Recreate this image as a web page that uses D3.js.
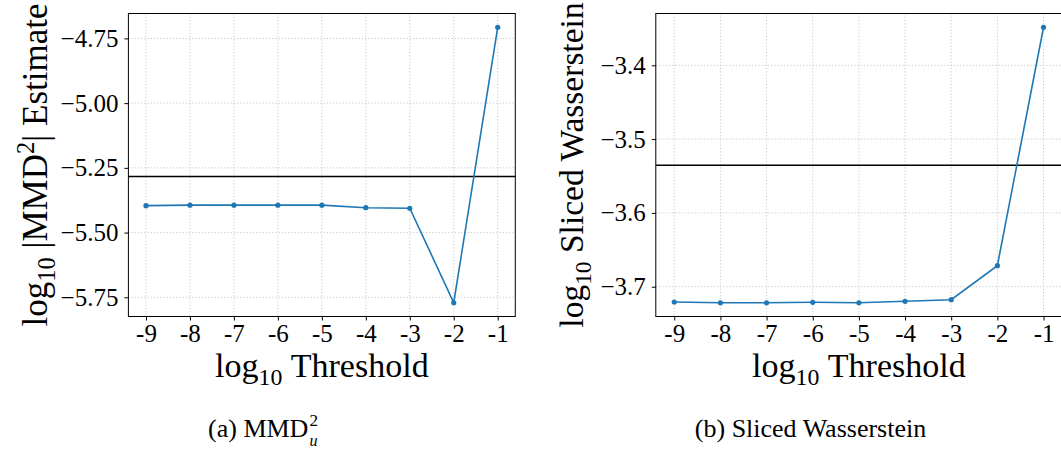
<!DOCTYPE html>
<html>
<head>
<meta charset="utf-8">
<script src="https://cdn.jsdelivr.net/npm/d3@7"></script>
<style>
  html, body { margin: 0; padding: 0; background: #fff; }
  svg { display: block; }
  text { font-family: "Liberation Serif", "DejaVu Serif", serif; fill: #000; }
</style>
</head>
<body>
<svg id="chart" width="1061" height="451"></svg>
<script>
// ---------- data ----------
const thresholds = [-9, -8, -7, -6, -5, -4, -3, -2, -1];
const xTickLabels = ["-9", "-8", "-7", "-6", "-5", "-4", "-3", "-2", "-1"];

const mmdValues = [-5.396, -5.394, -5.394, -5.394, -5.394, -5.404, -5.406, -5.771, -4.707];
const mmdReference = -5.283;
const mmdTicks = [-4.75, -5.00, -5.25, -5.50, -5.75];
const mmdTickLabels = ["\u22124.75", "\u22125.00", "\u22125.25", "\u22125.50", "\u22125.75"];

const swValues = [-3.7207, -3.7217, -3.7217, -3.7211, -3.7217, -3.7198, -3.7176, -3.6715, -3.3485];
const swReference = -3.5356;
const swTicks = [-3.4, -3.5, -3.6, -3.7];
const swTickLabels = ["\u22123.4", "\u22123.5", "\u22123.6", "\u22123.7"];

// ---------- drawing ----------
const svg = d3.select("#chart");
const BLUE = "#1f77b4";
const SERIF = "'Liberation Serif', 'DejaVu Serif', serif";
const TICK_FS = 25, XLABEL_FS = 34, CAPTION_FS = 26;

function padDomain(vals) {
  const lo = d3.min(vals), hi = d3.max(vals), m = (hi - lo) * 0.05;
  return [lo - m, hi + m];
}

function styleAxis(sel) {
  sel.select(".domain").remove();
  sel.attr("font-family", null).attr("font-size", null);
  sel.selectAll("text")
    .style("font-family", SERIF).style("font-size", TICK_FS + "px").attr("fill", "#000");
  sel.selectAll("line").attr("stroke", "#000");
}

function panel(opt) {
  const g = svg.append("g");
  const x = d3.scaleLinear().domain([-9.4, -0.6]).range([opt.left, opt.right]);
  const y = d3.scaleLinear().domain(padDomain(opt.values)).range([opt.bottom, opt.top]);

  // grid
  const grid = g.append("g").attr("stroke", "#bdbdbd").attr("stroke-width", 0.8)
    .attr("stroke-dasharray", "1.2,2");
  grid.selectAll(".vg").data(thresholds).join("line")
    .attr("x1", d => x(d)).attr("x2", d => x(d))
    .attr("y1", opt.top).attr("y2", opt.bottom);
  grid.selectAll(".hg").data(opt.ticks).join("line")
    .attr("x1", opt.left).attr("x2", opt.right)
    .attr("y1", d => y(d)).attr("y2", d => y(d));

  // axes
  const xAxis = d3.axisBottom(x).tickValues(thresholds)
    .tickFormat((d, i) => xTickLabels[i]).tickSize(4).tickPadding(4);
  g.append("g").attr("transform", `translate(0,${opt.bottom})`).call(xAxis).call(styleAxis);

  const yAxis = d3.axisLeft(y).tickValues(opt.ticks)
    .tickFormat((d, i) => opt.tickLabels[i]).tickSize(4).tickPadding(6);
  g.append("g").attr("transform", `translate(${opt.left},0)`).call(yAxis).call(styleAxis);

  // reference horizontal line
  g.append("line")
    .attr("x1", opt.left).attr("x2", opt.right)
    .attr("y1", y(opt.reference)).attr("y2", y(opt.reference))
    .attr("stroke", "#000").attr("stroke-width", 1.5);

  // series
  const pts = thresholds.map((t, i) => [t, opt.values[i]]);
  g.append("path").datum(pts)
    .attr("fill", "none").attr("stroke", BLUE).attr("stroke-width", 1.6)
    .attr("d", d3.line().x(d => x(d[0])).y(d => y(d[1])));
  g.selectAll(".pt").data(pts).join("circle")
    .attr("cx", d => x(d[0])).attr("cy", d => y(d[1])).attr("r", 2.6)
    .attr("fill", BLUE);

  // frame
  g.append("rect")
    .attr("x", opt.left).attr("y", opt.top)
    .attr("width", opt.right - opt.left).attr("height", opt.bottom - opt.top)
    .attr("fill", "none").attr("stroke", "#000").attr("stroke-width", 1);

  // x label
  const xl = g.append("text").attr("x", (opt.left + opt.right) / 2).attr("y", opt.xLabelY)
    .attr("text-anchor", "middle").style("font-size", XLABEL_FS + "px");
  xl.append("tspan").text("log");
  xl.append("tspan").text("10").style("font-size", XLABEL_FS * 0.7 + "px").attr("dy", 8);
  xl.append("tspan").text("\u00a0Threshold").attr("dy", -8);

  // y label (rotated)
  const fs = opt.yLabelFS;
  const yl = g.append("text")
    .attr("transform", `translate(${opt.yLabelX},${(opt.top + opt.bottom) / 2}) rotate(-90)`)
    .attr("text-anchor", "middle").style("font-size", fs + "px");
  opt.yLabelParts.forEach(p => {
    const t = yl.append("tspan").text(p.t);
    if (p.sub) t.style("font-size", fs * 0.7 + "px").attr("dy", 8);
    if (p.sup) t.style("font-size", fs * 0.7 + "px").attr("dy", -13);
    if (p.dy) t.attr("dy", p.dy);
  });
  return g;
}

panel({
  left: 128.4, right: 515.3, top: 13.5, bottom: 316.5,
  values: mmdValues, reference: mmdReference,
  ticks: mmdTicks, tickLabels: mmdTickLabels,
  xLabelY: 377, yLabelX: 47, yLabelFS: 35,
  yLabelParts: [
    { t: "log" }, { t: "10", sub: true },
    { t: "\u00a0|MMD", dy: -8 }, { t: "2", sup: true },
    { t: "|\u00a0Estimate", dy: 13 }
  ]
});

panel({
  left: 655.8, right: 1062, top: 13.5, bottom: 316.5,
  values: swValues, reference: swReference,
  ticks: swTicks, tickLabels: swTickLabels,
  xLabelY: 377, yLabelX: 583, yLabelFS: 33.5,
  yLabelParts: [
    { t: "log" }, { t: "10", sub: true },
    { t: "\u00a0Sliced Wasserstein", dy: -8 }
  ]
});

// captions
(function captionA() {
  const g = svg.append("g");
  const main = g.append("text").attr("x", 0).attr("y", 0).style("font-size", CAPTION_FS + "px").text("(a) MMD");
  const L = main.node().getComputedTextLength();
  const sup = g.append("text").attr("x", L + 1).attr("y", -11).style("font-size", CAPTION_FS * 0.66 + "px").text("2");
  g.append("text").attr("x", L + 1).attr("y", 9).style("font-size", CAPTION_FS * 0.62 + "px")
    .attr("font-style", "italic").text("u");
  const W = L + 1 + sup.node().getComputedTextLength();
  g.attr("transform", `translate(${263 - W / 2},436.7)`);
})();

svg.append("text").attr("x", 810.5).attr("y", 436.7).attr("text-anchor", "middle")
  .style("font-size", CAPTION_FS + "px").text("(b) Sliced Wasserstein");
</script>
</body>
</html>
